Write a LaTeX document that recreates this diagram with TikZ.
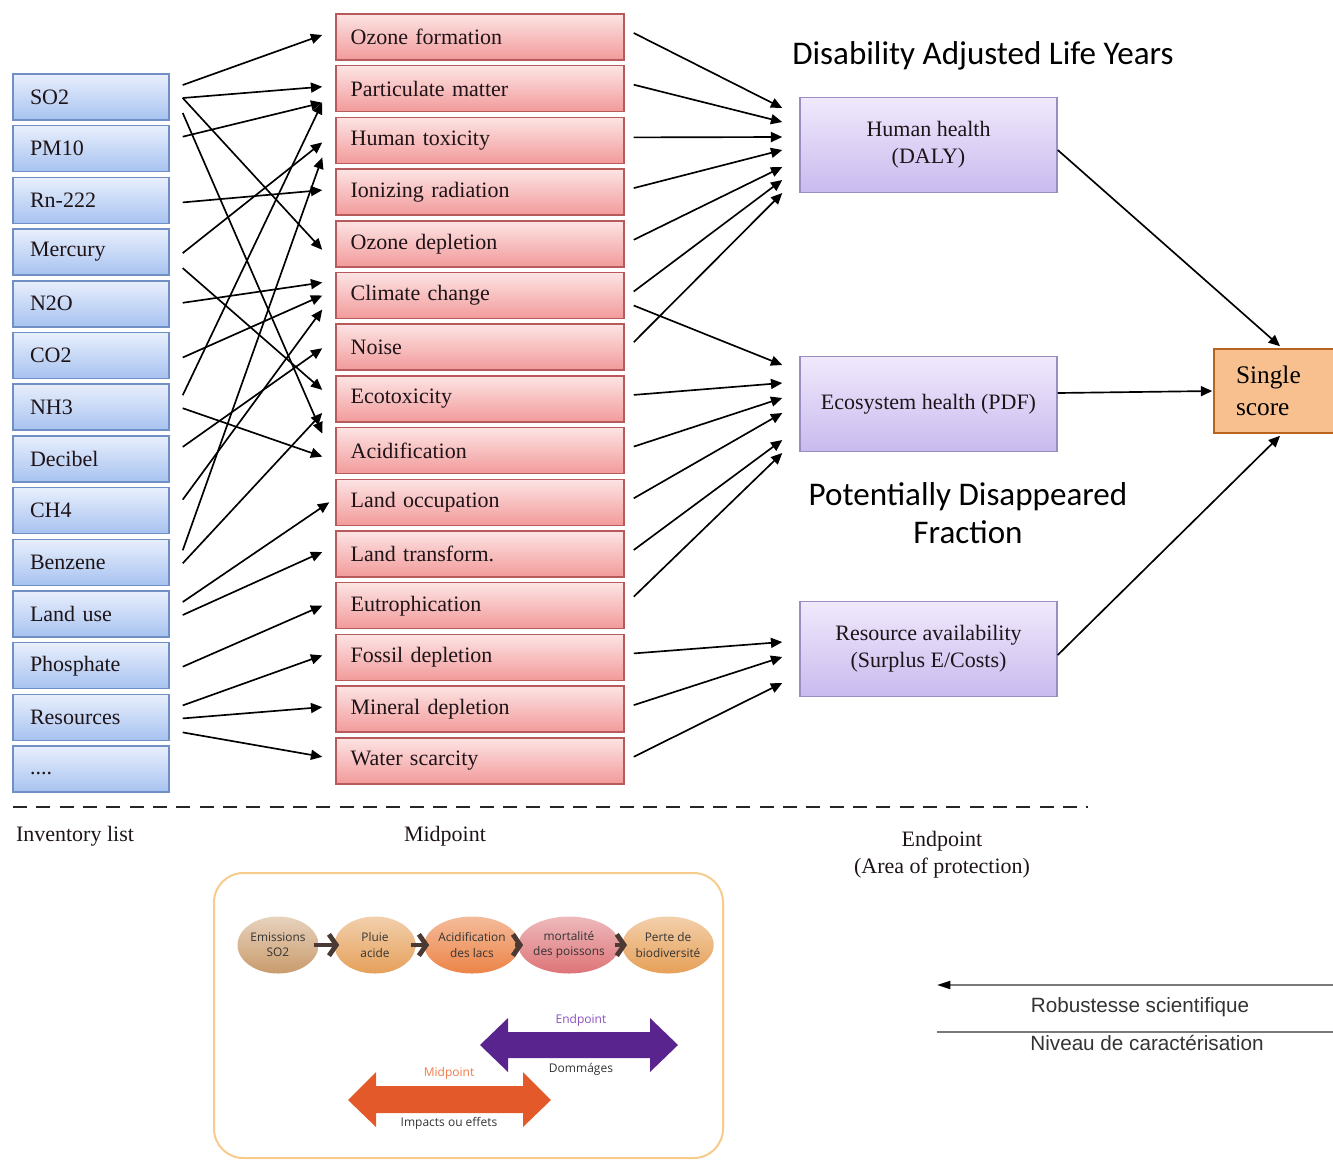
\documentclass[tikz,border=0pt]{standalone}
\usepackage{fontspec}
\setmainfont{Liberation Serif}
\newfontfamily\calibri{Carlito}
\newfontfamily\arialf{Liberation Sans}
\newfontfamily\myriadf{Open Sans}
\usetikzlibrary{arrows.meta,calc,shapes.geometric}

\definecolor{invtop}{HTML}{E8EFFC}
\definecolor{invbot}{HTML}{A7C2F0}
\definecolor{invline}{HTML}{6F8FC5}
\definecolor{midtop}{HTML}{FDE4E4}
\definecolor{midbot}{HTML}{F29A9A}
\definecolor{midline}{HTML}{B65A5C}
\definecolor{endtop}{HTML}{F0E9FC}
\definecolor{endbot}{HTML}{C9BAEE}
\definecolor{endline}{HTML}{9A8DC0}
\definecolor{scorefill}{HTML}{F8C08F}
\definecolor{scoreline}{HTML}{B8641F}
\definecolor{txtdark}{HTML}{1E1418}
\definecolor{insetline}{HTML}{F6CB8C}
\definecolor{chevcol}{HTML}{4B3A33}
\definecolor{purparrow}{HTML}{5A248E}
\definecolor{purptxt}{HTML}{8A4FC0}
\definecolor{orgarrow}{HTML}{E4592A}
\definecolor{orgtxt}{HTML}{F27A48}
\definecolor{emicol}{HTML}{C99B6C}
\definecolor{pluiecol}{HTML}{E5A05A}
\definecolor{acidcol}{HTML}{EC8448}
\definecolor{mortcol}{HTML}{DD7478}
\definecolor{pertecol}{HTML}{E6A058}
\definecolor{grayline}{HTML}{7A7A7A}
\definecolor{graytxt}{HTML}{333333}

\tikzset{
  boxfont/.style={font=\fontsize{16.5}{20}\selectfont, text=txtdark},
  invbox/.style={boxfont, draw=invline, line width=1.1pt, top color=invtop, bottom color=invbot,
    minimum height=34.5pt, text width=91.5pt, inner xsep=12.75pt, align=left},
  midbox/.style={boxfont, draw=midline, line width=1.1pt, top color=midtop, bottom color=midbot,
    minimum height=34.5pt, text width=194pt, inner xsep=11pt, align=left},
  endbox/.style={boxfont, draw=endline, line width=1.1pt, top color=endtop, bottom color=endbot,
    minimum height=71pt, minimum width=192.75pt, align=center,
    font=\fontsize{16.5}{20.5}\selectfont},
  scorebox/.style={draw=scoreline, line width=1.2pt, fill=scorefill, minimum height=63pt,
    text width=57pt, inner xsep=16.5pt, align=left, font=\fontsize{19}{24}\selectfont},
  conn/.style={line width=1.25pt, -{Triangle[length=8.5pt,width=7.5pt]}},
  ell/.style={ellipse, minimum width=60.75pt, minimum height=42.75pt, inner sep=0pt,
    align=center, font=\myriadf\fontsize{8.9}{11.5}\selectfont, text=graytxt},
  chev/.style={draw=chevcol, line width=3.6pt, -{Straight Barb[length=5.5pt,width=16pt]}},
  insetlbl/.style={font=\myriadf\fontsize{9}{10}\selectfont},
  sidelbl/.style={font=\arialf\fontsize{15.5}{18}\selectfont, text=graytxt},
  titlelbl/.style={font=\calibri\fontsize{24.8}{28.5}\selectfont, align=center},
  stagelbl/.style={font=\fontsize{16.5}{20}\selectfont, text=txtdark, align=center},
}

\newcommand\invlink[4]{\draw[conn] ($(#1.east)+(13,#2)$) -- ($(#3.west)+(-13,#4)$);}
\newcommand\eplink[4]{\draw[conn] ($(#1.east)+(9,#2)$) -- ($(#3.west)+(-17,#4)$);}

\begin{document}
\begin{tikzpicture}[x=0.75pt,y=-0.75pt]
\useasboundingbox (0,0) rectangle (1333,1161);

% inventory list
\foreach \nm/\txt [count=\i from 0] in {so2/SO2, pmten/PM10, rn/Rn-222, hg/Mercury, ntwo/N2O,
  co2/CO2, nh3/NH3, db/Decibel, ch4/CH4, bz/Benzene, lu/Land use, ph/Phosphate,
  res/Resources}
  \node[invbox] (\nm) at (91, 97+51.7*\i) {\txt};
\node[invbox] (etc) at (91, 97+51.7*13) {\strut....};

% midpoint categories
\foreach \nm/\txt [count=\j from 0] in {of/Ozone formation, pm/Particulate matter,
  ht/Human toxicity, ir/Ionizing radiation, od/Ozone depletion, cc/Climate change,
  noise/Noise, eco/Ecotoxicity, acid/Acidification, lo/Land occupation,
  lt/Land transform., eut/Eutrophication, fos/Fossil depletion,
  mnr/Mineral depletion, wat/Water scarcity}
  \node[midbox] (\nm) at (480, 37+51.7*\j) {\txt};

% endpoints
\node[endbox] (hh) at (928.5,145) {Human health\\(DALY)};
\node[endbox] (eh) at (928.5,404) {Ecosystem health (PDF)};
\node[endbox] (ra) at (928.5,649) {Resource availability\\(Surplus E/Costs)};
\node[scorebox] (ss) at (1274,391) {Single\\score};

% inventory -> midpoint
\invlink{so2}{-12}{of}{-2}
\invlink{so2}{1}{pm}{-2}
\invlink{so2}{1}{od}{6}
\invlink{so2}{16}{acid}{-17}
\invlink{pmten}{-12}{pm}{14}
\invlink{rn}{2}{ir}{-2}
\invlink{hg}{1}{ht}{2}
\invlink{hg}{16}{eco}{-9}
\invlink{ntwo}{-1}{cc}{-13}
\invlink{co2}{2}{cc}{0}
\invlink{nh3}{-12}{pm}{14}
\invlink{nh3}{1}{acid}{6}
\invlink{db}{-12}{noise}{1}
\invlink{ch4}{-11}{cc}{14}
\invlink{bz}{-12}{ht}{17}
\invlink{bz}{1}{eco}{14}
\draw[conn] ($(lu.east)+(13,-12)$) -- ($(lo.west)+(-6,0)$);
\invlink{lu}{1}{lt}{-2}
\invlink{ph}{1}{eut}{0}
\invlink{res}{-12}{fos}{-2}
\invlink{res}{1}{mnr}{-2}
\invlink{res}{15}{wat}{-4}

% midpoint -> endpoint
\eplink{of}{-4}{hh}{-37}
\eplink{pm}{-4}{hh}{-23}
\eplink{ht}{-3}{hh}{-8}
\eplink{ir}{-4}{hh}{5}
\eplink{od}{-4}{hh}{22}
\eplink{cc}{-4}{hh}{35}
\eplink{noise}{-5}{hh}{48}
\eplink{cc}{10}{eh}{-39}
\eplink{eco}{-4}{eh}{-21}
\eplink{acid}{-4}{eh}{-6}
\eplink{lo}{-4}{eh}{9}
\eplink{lt}{-4}{eh}{36}
\eplink{eut}{-9}{eh}{49}
\eplink{fos}{-4}{ra}{-7}
\eplink{mnr}{-4}{ra}{8}
\eplink{wat}{-4}{ra}{34}

% endpoint -> single score
\draw[conn] ($(hh.east)+(0,5)$) -- ($(ss.north)+(6,-2)$);
\draw[conn] ($(eh.east)+(0,-11)$) -- ($(ss.west)+(-1,0)$);
\draw[conn] ($(ra.east)+(0,6)$) -- ($(ss.south)+(6,2)$);

% indicator names
\node[titlelbl] (dalylbl) at (983,56) {Disability Adjusted Life Years};
\node[titlelbl] (pdflbl) at (968,513) {Potentially Disappeared\\Fraction};

% separation of the three levels
\coordinate (sepL) at (13,807);
\coordinate (sepR) at (1088,807);
\draw[line width=2.2pt, dash pattern=on 10.5pt off 7pt, draw=black!85] (sepL) -- (sepR);
\node[stagelbl] (invlbl) at (75,836) {Inventory list};
\node[stagelbl] (midlbl) at (445,836) {Midpoint};
\node[stagelbl] (endlbl) at (942,855) {Endpoint\\(Area of protection)};

% SO2 cause-effect chain
\draw[draw=insetline, line width=1.5pt, rounded corners=22pt] (214,873) rectangle (723,1158);
\node[ell, top color=emicol!45!white, bottom color=emicol] (e1) at (278,945) {Emissions\\SO2};
\node[ell, top color=pluiecol!50!white, bottom color=pluiecol] (e2) at (375,945) {Pluie\\acide};
\node[ell, top color=acidcol!55!white, bottom color=acidcol] (e3) at (472,945) {Acidification\\des lacs};
\node[ell, top color=mortcol!50!white, bottom color=mortcol] (e4) at (569,945) {mortalité\\des poissons};
\node[ell, top color=pertecol!50!white, bottom color=pertecol] (e5) at (668,945) {Perte de\\biodiversité};
\foreach \a/\b in {e1/e2, e2/e3, e3/e4, e4/e5}
  \draw[chev] ($(\a.east)+(-5,0)$) -- ($(\b.west)+(5,0)$);

% endpoint and midpoint ranges
\fill[purparrow] (480,1045) -- (508,1018) -- (508,1032) -- (650,1032) -- (650,1018) -- (678,1045)
  -- (650,1072) -- (650,1058) -- (508,1058) -- (508,1072) -- cycle;
\fill[orgarrow] (348,1100) -- (376,1072) -- (376,1086) -- (523,1086) -- (523,1072) -- (551,1100)
  -- (523,1127) -- (523,1113) -- (376,1113) -- (376,1127) -- cycle;
\node[insetlbl, text=purptxt] (eplbl) at (581,1020) {Endpoint};
\node[insetlbl, text=graytxt] (domlbl) at (581,1069) {Dommáges};
\node[insetlbl, text=orgtxt] (mplbl) at (449,1073) {Midpoint};
\node[insetlbl, text=graytxt] (implbl) at (449,1123) {Impacts ou effets};

% characterisation level scale
\coordinate (robR) at (1335,985);
\coordinate (robL) at (937,985);
\coordinate (nivL) at (937,1032);
\coordinate (nivR) at (1335,1032);
\draw[draw=grayline, line width=1.5pt, -{Triangle[length=10pt,width=6pt,color=black]}] (robR) -- (robL);
\draw[draw=grayline, line width=1.2pt] (nivL) -- (nivR);
\node[sidelbl] (roblbl) at (1140,1007) {Robustesse scientifique};
\node[sidelbl] (nivlbl) at (1147,1043) {Niveau de caractérisation};
\end{tikzpicture}
\end{document}
